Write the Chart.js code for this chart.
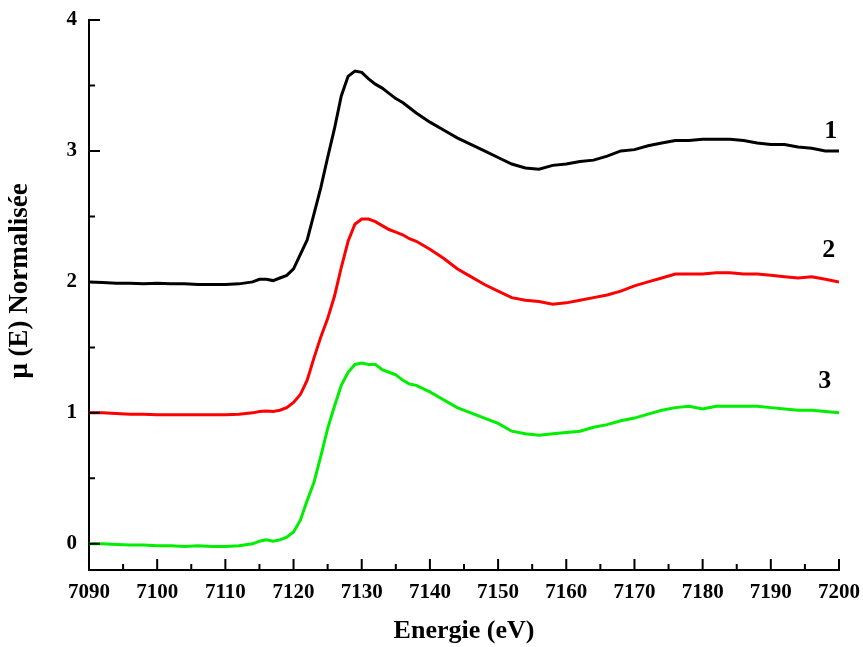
<!DOCTYPE html>
<html>
<head>
<meta charset="utf-8">
<script src="https://cdn.jsdelivr.net/npm/chart.js@4"></script>
<style>
  body { margin: 0; background: #fff; }
  #wrap { width: 863px; height: 647px; }
</style>
</head>
<body>
<div id="wrap"><canvas id="xanes" width="863" height="647"></canvas></div>
<script>
// energies (eV)
const energy = [7090, 7092, 7094, 7096, 7098, 7100, 7102, 7104, 7106, 7108, 7110, 7112, 7114, 7115, 7116, 7117, 7118, 7119,
  7120, 7121, 7122, 7123, 7124, 7125, 7126, 7127, 7128, 7129, 7130, 7131, 7132, 7133, 7134, 7135, 7136, 7137, 7138,
  7140, 7142, 7144, 7146, 7148, 7150, 7152, 7154, 7156, 7158, 7160, 7162, 7164, 7166, 7168, 7170, 7172, 7174, 7176,
  7178, 7180, 7182, 7184, 7186, 7188, 7190, 7192, 7194, 7196, 7198, 7200];

// mu(E) normalised, offset curves
const curve1 = [2.00, 1.995, 1.99, 1.99, 1.985, 1.99, 1.985, 1.985, 1.98, 1.98, 1.98, 1.985, 2.00, 2.02, 2.02, 2.01, 2.03, 2.05,
  2.10, 2.21, 2.32, 2.52, 2.72, 2.95, 3.17, 3.42, 3.57, 3.61, 3.60, 3.55, 3.51, 3.48, 3.44, 3.40, 3.37, 3.33, 3.29,
  3.22, 3.16, 3.10, 3.05, 3.00, 2.95, 2.90, 2.87, 2.86, 2.89, 2.90, 2.92, 2.93, 2.96, 3.00, 3.01, 3.04, 3.06, 3.08,
  3.08, 3.09, 3.09, 3.09, 3.08, 3.06, 3.05, 3.05, 3.03, 3.02, 3.00, 3.00];

const curve2 = [1.00, 1.00, 0.995, 0.99, 0.99, 0.985, 0.985, 0.985, 0.985, 0.985, 0.985, 0.99, 1.00, 1.01, 1.015, 1.01, 1.02, 1.04,
  1.08, 1.14, 1.25, 1.42, 1.58, 1.72, 1.89, 2.11, 2.31, 2.44, 2.48, 2.48, 2.46, 2.43, 2.40, 2.38, 2.36, 2.33, 2.31,
  2.25, 2.18, 2.10, 2.04, 1.98, 1.93, 1.88, 1.86, 1.85, 1.83, 1.84, 1.86, 1.88, 1.90, 1.93, 1.97, 2.00, 2.03, 2.06,
  2.06, 2.06, 2.07, 2.07, 2.06, 2.06, 2.05, 2.04, 2.03, 2.04, 2.02, 2.00];

const curve3 = [0.00, 0.00, -0.005, -0.01, -0.01, -0.015, -0.015, -0.02, -0.015, -0.02, -0.02, -0.015, 0.00, 0.02, 0.03, 0.02, 0.03, 0.05,
  0.09, 0.18, 0.33, 0.47, 0.67, 0.88, 1.05, 1.21, 1.31, 1.37, 1.38, 1.37, 1.37, 1.33, 1.31, 1.29, 1.25, 1.22, 1.21,
  1.16, 1.10, 1.04, 1.00, 0.96, 0.92, 0.86, 0.84, 0.83, 0.84, 0.85, 0.86, 0.89, 0.91, 0.94, 0.96, 0.99, 1.02, 1.04,
  1.05, 1.03, 1.05, 1.05, 1.05, 1.05, 1.04, 1.03, 1.02, 1.02, 1.01, 1.00];

const curveNames = ['1', '2', '3'];
const curveColors = ['#000000', '#ff0000', '#00ee00'];
// where the curve numbers sit (data coordinates)
const nameX = [7198.8, 7198.5, 7197.9];
const nameY = [3.15, 2.24, 1.24];

const xMajorTicks = [7090, 7100, 7110, 7120, 7130, 7140, 7150, 7160, 7170, 7180, 7190, 7200];
const xMinorTicks = [7095, 7105, 7115, 7125, 7135, 7145, 7155, 7165, 7175, 7185, 7195];
const yMajorTicks = [0, 1, 2, 3, 4];
const yMinorTicks = [0.5, 1.5, 2.5, 3.5];

const yTitle = 'μ (E) Normalisée';
const FONT = '"Liberation Serif", "Times New Roman", serif';

const toPoints = ys => energy.map((e, i) => ({ x: e, y: ys[i] }));

const innerTicks = {
  id: 'innerTicks',
  afterDraw(chart) {
    const { ctx, chartArea: a, scales: { x, y } } = chart;
    ctx.save();
    ctx.strokeStyle = '#000';
    ctx.lineWidth = 2;
    ctx.beginPath();
    xMajorTicks.forEach(v => { const p = x.getPixelForValue(v); ctx.moveTo(p, a.bottom); ctx.lineTo(p, a.bottom - 11); });
    xMinorTicks.forEach(v => { const p = x.getPixelForValue(v); ctx.moveTo(p, a.bottom); ctx.lineTo(p, a.bottom - 6); });
    yMajorTicks.forEach(v => { const p = y.getPixelForValue(v); ctx.moveTo(a.left, p); ctx.lineTo(a.left + 11, p); });
    yMinorTicks.forEach(v => { const p = y.getPixelForValue(v); ctx.moveTo(a.left, p); ctx.lineTo(a.left + 6, p); });
    ctx.stroke();

    ctx.fillStyle = '#000';
    ctx.font = 'bold 26px ' + FONT;
    ctx.textAlign = 'center';
    ctx.textBaseline = 'middle';
    curveNames.forEach((n, i) => {
      ctx.fillText(n, x.getPixelForValue(nameX[i]), y.getPixelForValue(nameY[i]));
    });

    // y axis title, a bit above the middle of the axis
    ctx.font = 'bold 27px ' + FONT;
    ctx.translate(20, (a.top + a.bottom) / 2 - 14);
    ctx.rotate(-Math.PI / 2);
    ctx.fillText(yTitle, 0, 0);
    ctx.restore();
  }
};

new Chart(document.getElementById('xanes'), {
  type: 'line',
  data: {
    datasets: [curve1, curve2, curve3].map((c, i) => ({
      label: curveNames[i],
      data: toPoints(c),
      borderColor: curveColors[i],
      borderWidth: 3,
      pointRadius: 0,
      fill: false,
      tension: 0
    }))
  },
  options: {
    responsive: false,
    animation: false,
    layout: { padding: { top: 20, right: 24, left: 0, bottom: 0 } },
    plugins: { legend: { display: false }, tooltip: { enabled: false } },
    scales: {
      x: {
        type: 'linear',
        min: 7090,
        max: 7200,
        afterFit: s => { s.height = 77; s.paddingLeft = 0; s.paddingRight = 0; },
        afterBuildTicks: s => { s.ticks = xMajorTicks.map(v => ({ value: v })); },
        grid: { display: false, drawTicks: false },
        border: { display: true, color: '#000', width: 2 },
        ticks: { color: '#000', padding: 10, maxRotation: 0, autoSkip: false,
                 callback: v => String(v),
                 font: { family: FONT, size: 21, weight: 'bold' } },
        title: { display: true, text: 'Energie (eV)', color: '#000', padding: { top: 0, bottom: 0 },
                 font: { family: FONT, size: 26, weight: 'bold' } }
      },
      y: {
        type: 'linear',
        min: -0.2,
        max: 4,
        afterFit: s => { s.width = 89; s.paddingTop = 0; s.paddingBottom = 0; },
        afterBuildTicks: s => { s.ticks = yMajorTicks.map(v => ({ value: v })); },
        grid: { display: false, drawTicks: false },
        border: { display: true, color: '#000', width: 2 },
        ticks: { color: '#000', padding: 12,
                 callback: v => String(v),
                 font: { family: FONT, size: 21, weight: 'bold' } },
        title: { display: false }
      }
    }
  },
  plugins: [innerTicks]
});
</script>
</body>
</html>
